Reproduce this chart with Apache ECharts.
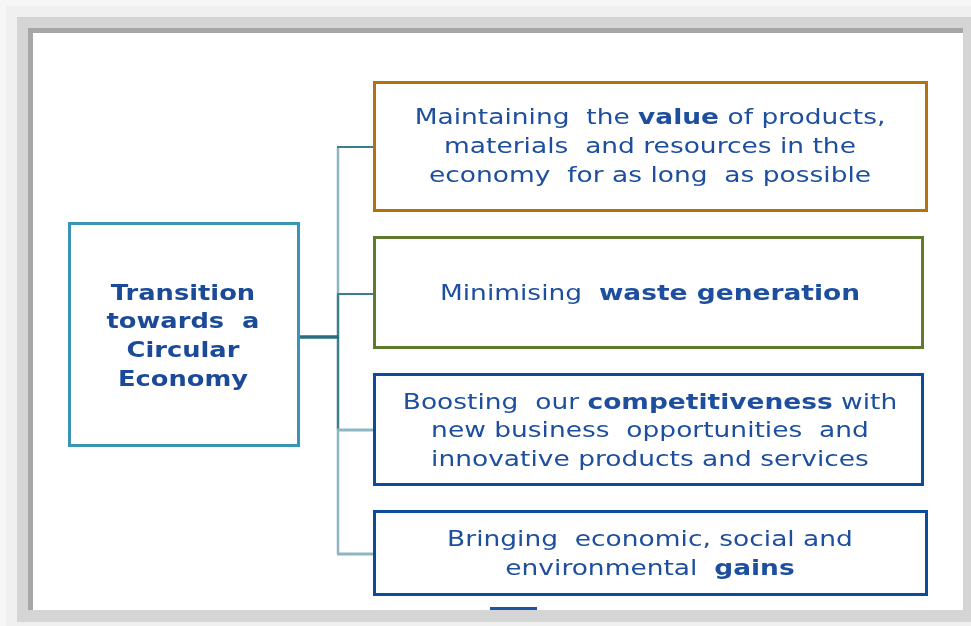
<!DOCTYPE html>
<html>
<head>
<meta charset="utf-8">
<script src="https://cdn.jsdelivr.net/npm/echarts@6/dist/echarts.min.js"></script>
<style>html,body{margin:0;padding:0;background:#fff;}#c{width:971px;height:626px;}</style>
</head>
<body>
<div id="c"></div>
<script>
// Content (text only); **...** marks bold words
const centerLines = ['Transition', 'towards  a', 'Circular', 'Economy'];
const goal1Lines = ['Maintaining  the **value** of products,', 'materials  and resources in the', 'economy  for as long  as possible'];
const goal2Lines = ['Minimising  **waste generation**'];
const goal3Lines = ['Boosting  our **competitiveness** with', 'new business  opportunities  and', 'innovative products and services'];
const goal4Lines = ['Bringing  economic, social and', 'environmental  **gains**'];
const goalBorderColors = ['#b5700f', '#5e7a2a', '#0e4a9a', '#0e4a9a'];

const FONT = 'DejaVu Sans';
const TXT = '#1d4f9e';
const TXTB = '#143f88';
const FS = 21;
const LH = 28.7;

function toRich(lines) {
  return lines.map(l => l.split('**').map((p, i) => {
    if (!p) return '';
    const safe = p.replace(/[{}|]/g, '');
    return '{' + (i % 2 ? 'b' : 'n') + '|' + safe + '}';
  }).join('')).join('\n');
}
const rich = {
  n: {fontFamily: FONT, fontSize: FS, color: TXT, lineHeight: LH},
  b: {fontFamily: FONT, fontSize: FS, fontWeight: 'bold', color: TXTB, lineHeight: LH}
};

const goals = [goal1Lines, goal2Lines, goal3Lines, goal4Lines];
const boxes = [
  {x1: 373, y1: 81, x2: 928, y2: 212},
  {x1: 373, y1: 236, x2: 924, y2: 349},
  {x1: 373, y1: 373, x2: 924, y2: 486},
  {x1: 373, y1: 510, x2: 928, y2: 596}
];
const textCY = [147.5, 294.5, 432, 555];

const g = [];
// frame / shadow
g.push({type: 'rect', shape: {x: 0, y: 0, width: 971, height: 626}, style: {fill: '#f6f6f6'}});
g.push({type: 'rect', shape: {x: 6, y: 6, width: 965, height: 620}, style: {fill: '#f0f0f0'}});
g.push({type: 'rect', shape: {x: 17, y: 17, width: 954, height: 605}, style: {fill: '#d5d5d5'}});
g.push({type: 'rect', shape: {x: 28, y: 28, width: 935, height: 582}, style: {fill: '#a6a6a6'}});
g.push({type: 'rect', shape: {x: 33, y: 33, width: 930, height: 577}, style: {fill: '#ffffff'}});
// partly hidden bar at bottom
g.push({type: 'rect', shape: {x: 490, y: 607, width: 47, height: 3}, style: {fill: '#1f55a3'}});

// connectors
const light = '#8db6c1', dark = '#3d7e8e';
g.push({type: 'line', shape: {x1: 338, y1: 147, x2: 338, y2: 294}, style: {stroke: light, lineWidth: 2.5}});
g.push({type: 'line', shape: {x1: 338, y1: 294, x2: 338, y2: 430}, style: {stroke: dark, lineWidth: 2.5}});
g.push({type: 'line', shape: {x1: 338, y1: 430, x2: 338, y2: 554}, style: {stroke: light, lineWidth: 2.5}});
g.push({type: 'line', shape: {x1: 337, y1: 147, x2: 374, y2: 147}, style: {stroke: '#3a7f8f', lineWidth: 1.8}});
g.push({type: 'line', shape: {x1: 337, y1: 294, x2: 374, y2: 294}, style: {stroke: '#3a7f8f', lineWidth: 1.8}});
g.push({type: 'line', shape: {x1: 337, y1: 430, x2: 374, y2: 430}, style: {stroke: light, lineWidth: 3}});
g.push({type: 'line', shape: {x1: 337, y1: 554, x2: 374, y2: 554}, style: {stroke: light, lineWidth: 3}});
g.push({type: 'line', shape: {x1: 299, y1: 337, x2: 339, y2: 337}, style: {stroke: '#2a6e7e', lineWidth: 3.5}});

// center box
g.push({type: 'rect', shape: {x: 69.5, y: 223.5, width: 229, height: 222}, style: {fill: '#fff', stroke: '#3a94b3', lineWidth: 3}});
g.push({type: 'text', x: 183, y: 337, scaleX: 1.17, style: {
  text: centerLines.join('\n'), fontFamily: FONT, fontSize: 22, fontWeight: 'bold', fill: '#1a4a98',
  lineHeight: 28.7, align: 'center', verticalAlign: 'middle'}});

// goal boxes
goals.forEach((lines, i) => {
  const b = boxes[i];
  g.push({type: 'rect', shape: {x: b.x1 + 1.5, y: b.y1 + 1.5, width: b.x2 - b.x1 - 3, height: b.y2 - b.y1 - 3},
    style: {fill: '#fff', stroke: goalBorderColors[i], lineWidth: 3}});
  g.push({type: 'text', x: 650, y: textCY[i], scaleX: 1.26, style: {
    text: toRich(lines), rich: rich, fontFamily: FONT, fontSize: FS, fill: TXT,
    align: 'center', verticalAlign: 'middle'}});
});

const chart = echarts.init(document.getElementById('c'), null, {renderer: 'canvas'});
chart.setOption({animation: false, graphic: {elements: g}});
</script>
</body>
</html>
